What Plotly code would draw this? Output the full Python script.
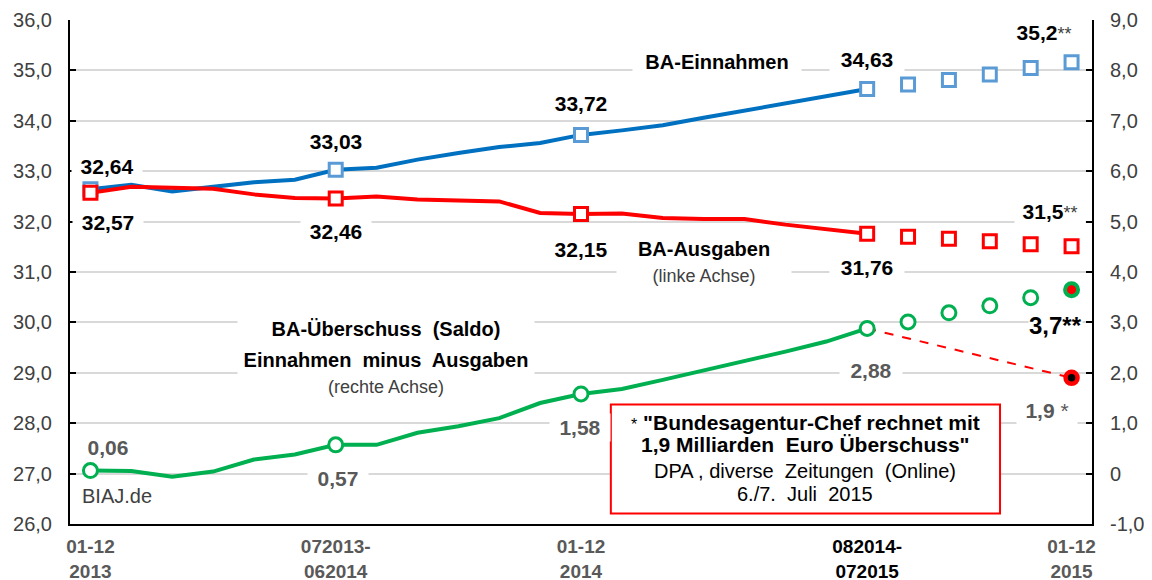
import plotly.graph_objects as go

# ---------------- data ----------------
categories = [
    "01-12 2013", "022013-012014", "032013-022014", "042013-032014", "052013-042014",
    "062013-052014", "072013-062014", "082013-072014", "092013-082014", "102013-092014",
    "112013-102014", "122013-112014", "01-12 2014", "022014-012015", "032014-022015",
    "042014-032015", "052014-042015", "062014-052015", "072014-062015", "082014-072015",
    "092014-082015", "102014-092015", "112014-102015", "122014-112015", "01-12 2015",
]
actual_cats = categories[:20]
forecast_cats = categories[20:]
marker_cats = ["01-12 2013", "072013-062014", "01-12 2014", "082014-072015"]

# BA-Einnahmen (Mrd. Euro, left axis)
einnahmen = [32.64, 32.73, 32.60, 32.69, 32.78, 32.83, 33.03, 33.07, 33.23, 33.36,
             33.48, 33.56, 33.72, 33.81, 33.91, 34.06, 34.20, 34.36, 34.49, 34.63]
einnahmen_prognose = [34.72, 34.81, 34.92, 35.05, 35.16]

# BA-Ausgaben (Mrd. Euro, left axis)
ausgaben = [32.57, 32.69, 32.67, 32.65, 32.54, 32.47, 32.46, 32.50, 32.44, 32.43,
            32.40, 32.17, 32.15, 32.16, 32.07, 32.05, 32.05, 31.94, 31.86, 31.76]
ausgaben_prognose = [31.70, 31.66, 31.61, 31.55, 31.51]

# BA-Überschuss (Saldo, right axis)
saldo = [0.06, 0.05, -0.06, 0.04, 0.28, 0.38, 0.57, 0.57, 0.81, 0.94,
         1.10, 1.40, 1.58, 1.68, 1.86, 2.04, 2.23, 2.42, 2.62, 2.88]
saldo_prognose = [3.01, 3.19, 3.33, 3.49, 3.65]
saldo_dpa = 1.9

tick_cats = ["01-12 2013", "072013-062014", "01-12 2014", "082014-072015", "01-12 2015"]
tick_text = ["<b>01-12</b><br><b>2013</b>", "<b>072013-</b><br><b>062014</b>",
             "<b>01-12</b><br><b>2014</b>",
             "<b><span style='color:black'>082014-</span></b><br><b><span style='color:black'>072015</span></b>",
             "<b>01-12</b><br><b>2015</b>"]
left_ticks = [26, 27, 28, 29, 30, 31, 32, 33, 34, 35, 36]
left_ticktext = ["26,0", "27,0", "28,0", "29,0", "30,0", "31,0", "32,0", "33,0", "34,0", "35,0", "36,0"]
right_ticks = [-1, 0, 1, 2, 3, 4, 5, 6, 7, 8, 9]
right_ticktext = ["-1,0", "0", "1,0", "2,0", "3,0", "4,0", "5,0", "6,0", "7,0", "8,0", "9,0"]

BLUE_LINE = "#0070C0"
BLUE_MK = "#5B9BD5"
RED = "#FF0000"
GREEN = "#00B050"
GRAY_TXT = "#595959"
DARK = "#404040"
FONT = "Liberation Sans, Arial, sans-serif"

def pick(cats, vals, wanted):
    d = dict(zip(cats, vals))
    return list(wanted), [d[c] for c in wanted]

fig = go.Figure()

# Einnahmen
fig.add_trace(go.Scatter(x=actual_cats, y=einnahmen, mode="lines",
                         line=dict(color=BLUE_LINE, width=4)))
mx, my = pick(actual_cats, einnahmen, marker_cats)
fig.add_trace(go.Scatter(x=mx + forecast_cats, y=my + einnahmen_prognose, mode="markers",
                         marker=dict(symbol="square", size=13, color="white",
                                     line=dict(color=BLUE_MK, width=3))))
# Ausgaben
fig.add_trace(go.Scatter(x=actual_cats, y=ausgaben, mode="lines",
                         line=dict(color=RED, width=4)))
mx, my = pick(actual_cats, ausgaben, marker_cats)
fig.add_trace(go.Scatter(x=mx + forecast_cats, y=my + ausgaben_prognose, mode="markers",
                         marker=dict(symbol="square", size=13, color="white",
                                     line=dict(color=RED, width=3))))
# Saldo (right axis)
fig.add_trace(go.Scatter(x=actual_cats, y=saldo, mode="lines", yaxis="y2",
                         line=dict(color=GREEN, width=4)))
fig.add_trace(go.Scatter(x=[actual_cats[-1], categories[-1]], y=[saldo[-1], saldo_dpa],
                         mode="lines", yaxis="y2",
                         line=dict(color=RED, width=2, dash="dash")))
mx, my = pick(actual_cats, saldo, marker_cats)
fig.add_trace(go.Scatter(x=mx + forecast_cats[:-1], y=my + saldo_prognose[:-1], mode="markers",
                         yaxis="y2",
                         marker=dict(symbol="circle", size=14, color="white",
                                     line=dict(color=GREEN, width=3))))
fig.add_trace(go.Scatter(x=forecast_cats[-1:], y=saldo_prognose[-1:], mode="markers", yaxis="y2",
                         marker=dict(symbol="circle", size=13, color=RED,
                                     line=dict(color=GREEN, width=4))))
fig.add_trace(go.Scatter(x=[categories[-1]], y=[saldo_dpa], mode="markers", yaxis="y2",
                         marker=dict(symbol="circle", size=12, color="black",
                                     line=dict(color=RED, width=4.5))))

# ---------------- annotations ----------------
ann = []
def lab(x, y, text, size=21, color="black", pad=2, **kw):
    d = dict(x=x, y=y, xref="x", yref="y", text=text, showarrow=False,
             font=dict(family=FONT, size=size, color=color),
             bgcolor="white", borderpad=pad, xanchor="center", yanchor="middle")
    d.update(kw)
    ann.append(d)

lab(0.40, 33.10, "<b>32,64</b>", width=66)
lab(0.43, 31.99, "<b>32,57</b>", width=66)
lab(6, 33.59, "<b>33,03</b>", width=66)
lab(6, 31.80, "<b>32,46</b>", width=66)
lab(12, 34.34, "<b>33,72</b>", width=66, pad=1)
lab(12, 31.45, "<b>32,15</b>", width=66)
lab(19, 35.22, "<b>34,63</b>", width=70)
lab(19, 31.09, "<b>31,76</b>", width=70)
lab(23.33, 35.76, "<b>35,2</b><span style='font-weight:normal;font-size:18px;color:#404040'>**</span>", width=66)
lab(23.48, 32.20, "<b>31,5</b><span style='font-weight:normal;font-size:18px;color:#404040'>**</span>", width=66)
lab(15.33, 35.16, "<b>BA-Einnahmen</b>", size=20, width=162, pad=3)
lab(15.0, 31.20, "<b>BA-Ausgaben</b><br><span style='font-size:18px;color:#404040'>(linke Achse)</span>",
    size=20, width=168, pad=3)
lab(7.23, 29.86, "<b>BA-Überschuss  (Saldo)</b>", size=20, width=290, pad=3)
lab(7.23, 29.26, "<b>Einnahmen  minus  Ausgaben</b>", size=20, width=290, pad=3)
lab(7.23, 28.72, "(rechte Achse)", size=18, color=DARK, pad=1)
lab(0.43, 27.51, "<b>0,06</b>", color=GRAY_TXT, width=54)
lab(6.06, 26.90, "<b>0,57</b>", color=GRAY_TXT, width=56)
lab(11.98, 27.91, "<b>1,58</b>", color=GRAY_TXT, width=56)
lab(19.09, 29.04, "<b>2,88</b>", color=GRAY_TXT, width=58)
lab(23.4, 28.25, "<b>1,9</b> *", color=GRAY_TXT, width=56)
lab(23.6, 29.93, "<b>3,7**</b>", size=24, pad=0)
lab(0.64, 26.56, "BIAJ.de", size=20, color=DARK, pad=0, bgcolor="rgba(0,0,0,0)")

# quote box (frame + four text lines)
box_shape = dict(type="rect", xref="x", yref="y", x0=12.73, x1=22.25, y0=26.21, y1=28.37,
                 line=dict(color=RED, width=2), fillcolor="white", layer="above")
quote_lines = [
    ("<span style='font-weight:normal;font-size:16px'>*</span> <b>\"Bundesagentur-Chef rechnet mit</b>", 28.01, 21),
    ("<b>1,9 Milliarden  Euro Überschuss\"</b>", 27.57, 21),
    ("DPA , diverse  Zeitungen  (Online)", 27.05, 20),
    ("6./7.  Juli  2015", 26.60, 20),
]
for txt, yv, sz in quote_lines:
    ann.append(dict(x=17.49, y=yv, xref="x", yref="y", text=txt, showarrow=False,
                    font=dict(family=FONT, size=sz, color="black"),
                    xanchor="center", yanchor="middle"))

# page offset compensation (browser body margin of 8px)
W, H = 1144, 572
fig.update_layout(
    width=W, height=H,
    margin=dict(l=62, r=60, t=12, b=56, autoexpand=False),
    paper_bgcolor="white", plot_bgcolor="white",
    showlegend=False,
    shapes=[box_shape],
    font=dict(family=FONT, size=20, color=DARK),
    xaxis=dict(type="category", categoryorder="array", categoryarray=categories,
               range=[-0.5, 24.5], tickmode="array", tickvals=tick_cats, ticktext=tick_text,
               tickfont=dict(family=FONT, size=19, color=GRAY_TXT),
               ticks="", showgrid=False, showline=True, linecolor="black", linewidth=2,
               zeroline=False, ticklabelstandoff=4, automargin=False, fixedrange=True),
    yaxis=dict(range=[26, 36], tickmode="array", tickvals=left_ticks, ticktext=left_ticktext,
               tickfont=dict(family=FONT, size=20, color=DARK),
               showgrid=True, gridcolor="#D9D9D9", gridwidth=1.5,
               ticks="inside", ticklen=6, tickwidth=2, tickcolor="black",
               showline=True, linecolor="black", linewidth=2, zeroline=False,
               ticklabelstandoff=12, automargin=False),
    yaxis2=dict(range=[-1, 9], overlaying="y", side="right", tickmode="array",
                tickvals=right_ticks, ticktext=right_ticktext,
                tickfont=dict(family=FONT, size=20, color=DARK),
                showgrid=False, ticks="inside", ticklen=6, tickwidth=2, tickcolor="black",
                showline=True, linecolor="black", linewidth=2, zeroline=False,
                ticklabelstandoff=12, automargin=False),
    annotations=ann,
)

fig.write_html("out.html")
